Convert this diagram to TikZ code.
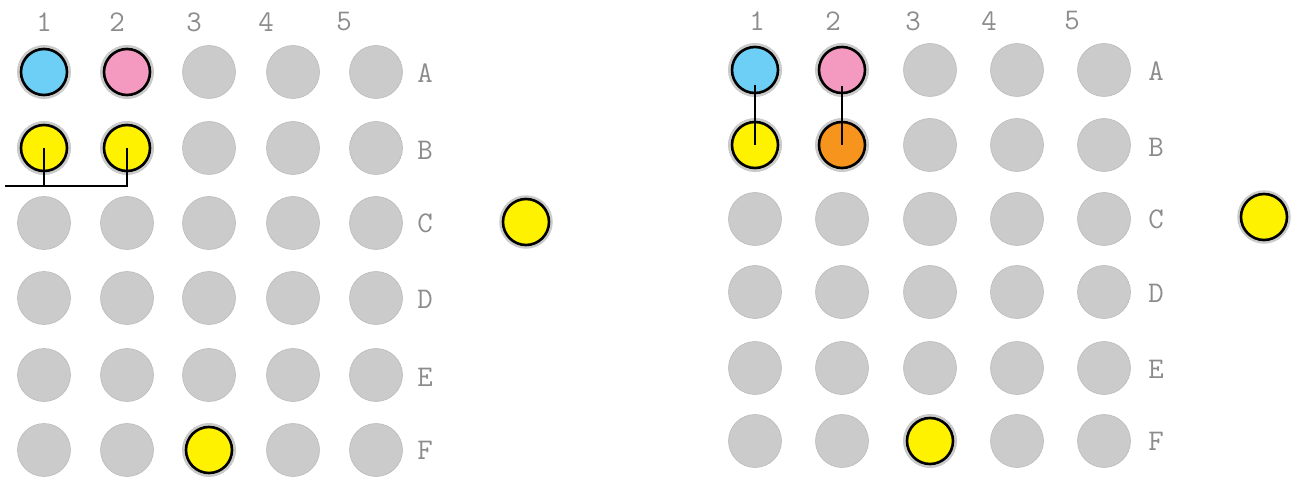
\documentclass[tikz,border=0pt]{standalone}
\usepackage{fontspec}
\definecolor{wellgrey}{HTML}{CBCBCB}
\definecolor{cyanwell}{HTML}{6DCFF6}
\definecolor{pinkwell}{HTML}{F49AC1}
\definecolor{yellowwell}{HTML}{FFF200}
\definecolor{orangewell}{HTML}{F7941D}
\definecolor{labelgrey}{HTML}{8C8C8C}
\tikzset{
  well/.style={circle, fill=wellgrey, draw=wellgrey!92!black, line width=0.6pt,
    minimum size=53pt, inner sep=0pt},
  filled/.style={circle, fill=#1, draw=black, line width=2.6pt, minimum size=46pt,
    inner sep=0pt, preaction={draw=wellgrey, line width=7.5pt}},
  lbl/.style={text=labelgrey, font=\ttfamily\fontsize{30}{30}\selectfont, inner sep=0pt},
  link/.style={line width=2.2pt}
}

\begin{document}
\begin{tikzpicture}[x=1pt, y=-1pt]
    \useasboundingbox (0,0) rectangle (1293,478);
    %left plate
    \foreach \x/\c in {44/1,127/2,209/3,293/4,376/5}
      \foreach \y/\r in {72/A,148/B,223/C,298/D,375/E,450/F}
        \node[well] (L\c\r) at (\x,\y) {};
    \foreach \x/\c in {44/1,117/2,194/3,266/4,344/5}
      \node[lbl] (Lnum\c) at (\x,22) {\c};
    \foreach \y/\r in {73/A,150/B,223/C,299/D,377/E,450/F}
      \node[lbl] (Lrow\r) at (425,\y) {\r};
    %marked wells
    \node[filled=cyanwell] (LcA1) at (L1A) {};
    \node[filled=pinkwell] (LcA2) at (L2A) {};
    \node[filled=yellowwell] (LcB1) at (L1B) {};
    \node[filled=yellowwell] (LcB2) at (L2B) {};
    \node[filled=yellowwell] (LcF3) at (L3F) {};
    \node[filled=yellowwell] (Lextra) at (526,222) {};
    %pooling line
    \coordinate (Lsplit) at (5,186);
    \draw[link] (LcB1.center) -- (LcB1.center |- Lsplit);
    \draw[link] (Lsplit) -- (LcB2.center |- Lsplit) -- (LcB2.center);
    %right plate
    \foreach \x/\c in {755/1,842/2,930/3,1017/4,1104/5}
      \foreach \y/\r in {70/A,145/B,219/C,292/D,368/E,441/F}
        \node[well] (R\c\r) at (\x,\y) {};
    \foreach \x/\c in {757/1,833/2,913/3,989/4,1072/5}
      \node[lbl] (Rnum\c) at (\x,21) {\c};
    \foreach \y/\r in {71/A,147/B,219/C,293/D,369/E,441/F}
      \node[lbl] (Rrow\r) at (1156,\y) {\r};
    %marked wells
    \node[filled=cyanwell] (RcA1) at (R1A) {};
    \node[filled=pinkwell] (RcA2) at (R2A) {};
    \node[filled=yellowwell] (RcB1) at (R1B) {};
    \node[filled=orangewell] (RcB2) at (R2B) {};
    \node[filled=yellowwell] (RcF3) at (R3F) {};
    \node[filled=yellowwell] (Rextra) at (1264,217) {};
    %transfer lines
    \draw[link] ([yshift=-15pt]RcA1.center) -- (RcB1.center);
    \draw[link] ([yshift=-16pt]RcA2.center) -- (RcB2.center);
\end{tikzpicture}
\end{document}
